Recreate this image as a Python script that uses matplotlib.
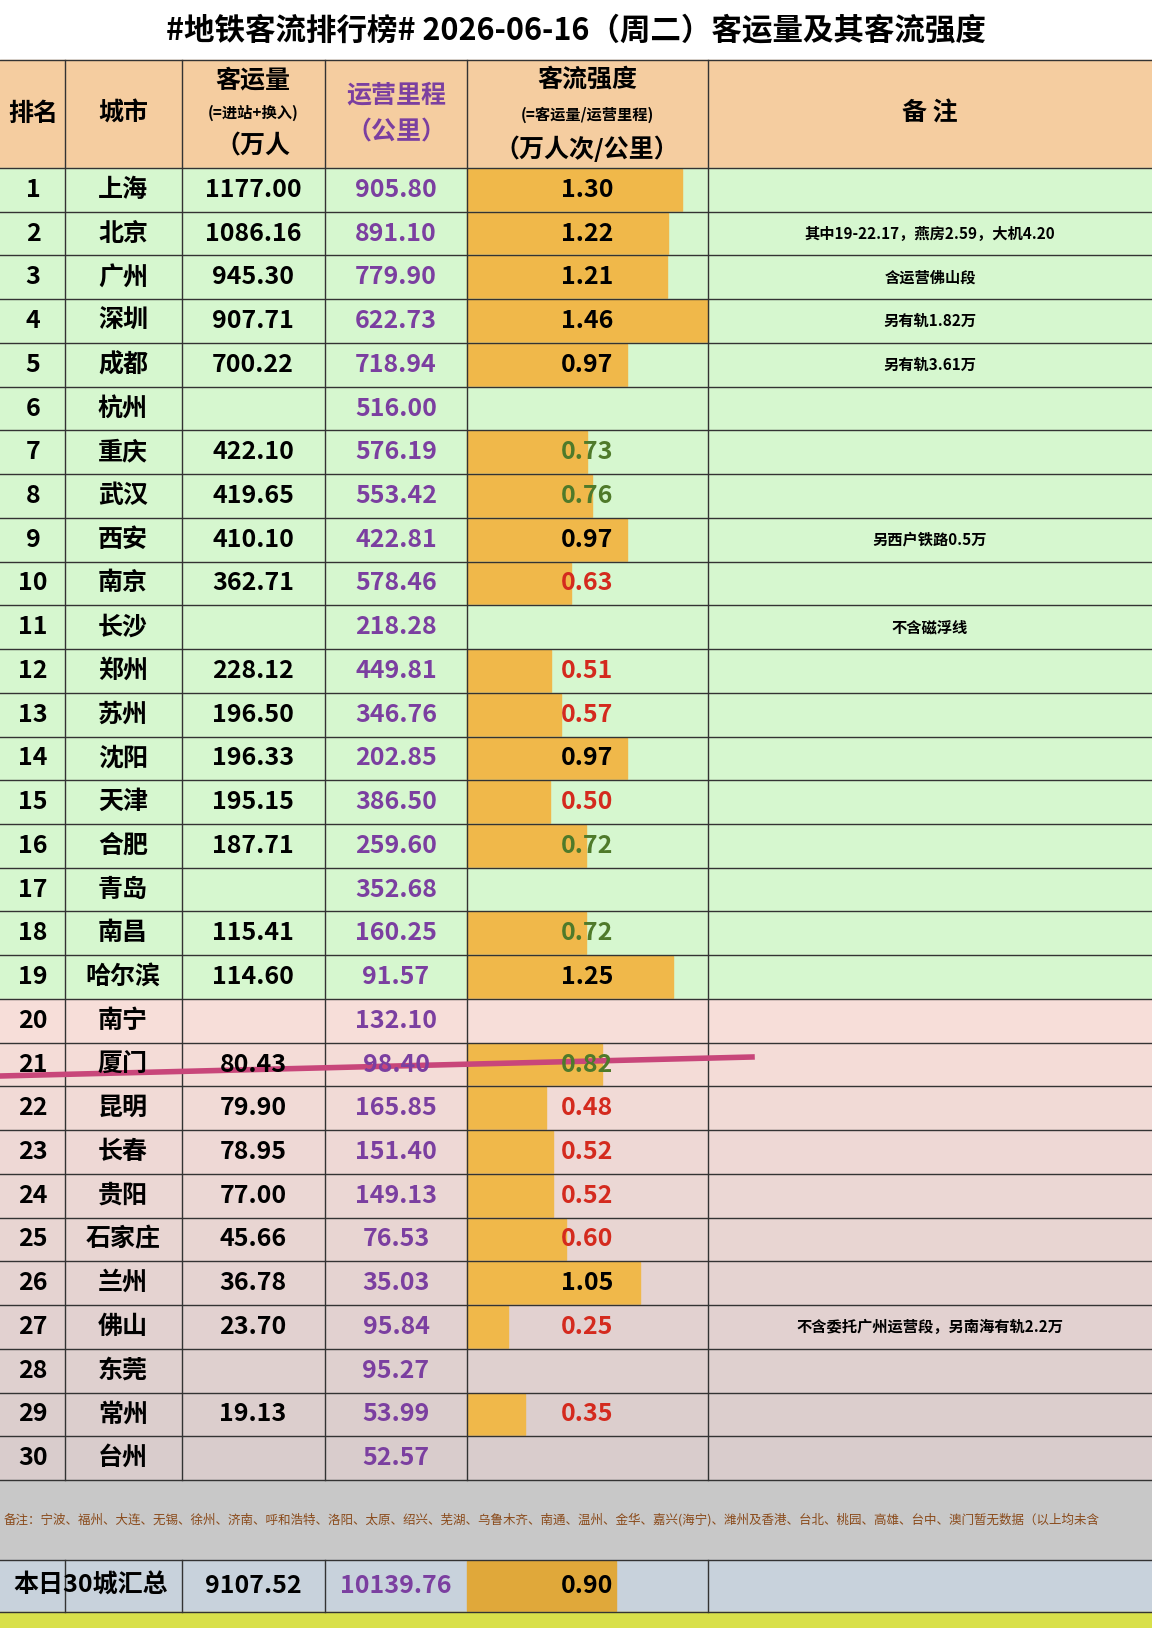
import matplotlib.pyplot as plt
from matplotlib.patches import Rectangle

plt.rcParams['font.family'] = ['Noto Sans CJK SC', 'DejaVu Sans']

ranks = list(range(1, 31))
cities = ["上海", "北京", "广州", "深圳", "成都", "杭州", "重庆", "武汉", "西安", "南京",
          "长沙", "郑州", "苏州", "沈阳", "天津", "合肥", "青岛", "南昌", "哈尔滨", "南宁",
          "厦门", "昆明", "长春", "贵阳", "石家庄", "兰州", "佛山", "东莞", "常州", "台州"]
volume = [1177.00, 1086.16, 945.30, 907.71, 700.22, None, 422.10, 419.65, 410.10, 362.71,
          None, 228.12, 196.50, 196.33, 195.15, 187.71, None, 115.41, 114.60, None,
          80.43, 79.90, 78.95, 77.00, 45.66, 36.78, 23.70, None, 19.13, None]
mileage = [905.80, 891.10, 779.90, 622.73, 718.94, 516.00, 576.19, 553.42, 422.81, 578.46,
           218.28, 449.81, 346.76, 202.85, 386.50, 259.60, 352.68, 160.25, 91.57, 132.10,
           98.40, 165.85, 151.40, 149.13, 76.53, 35.03, 95.84, 95.27, 53.99, 52.57]
intensity = [1.30, 1.22, 1.21, 1.46, 0.97, None, 0.73, 0.76, 0.97, 0.63,
             None, 0.51, 0.57, 0.97, 0.50, 0.72, None, 0.72, 1.25, None,
             0.82, 0.48, 0.52, 0.52, 0.60, 1.05, 0.25, None, 0.35, None]
notes = {2: "其中19-22.17，燕房2.59，大机4.20", 3: "含运营佛山段", 4: "另有轨1.82万",
         5: "另有轨3.61万", 9: "另西户铁路0.5万", 11: "不含磁浮线",
         27: "不含委托广州运营段，另南海有轨2.2万"}
total_volume, total_mileage, total_intensity = 9107.52, 10139.76, 0.90
footnote = "备注：宁波、福州、大连、无锡、徐州、济南、呼和浩特、洛阳、太原、绍兴、芜湖、乌鲁木齐、南通、温州、金华、嘉兴(海宁)、潍州及香港、台北、桃园、高雄、台中、澳门暂无数据（以上均未含"

W, H = 1152, 1628
fig = plt.figure(figsize=(W / 100, H / 100), dpi=100)
ax = fig.add_axes([0, 0, 1, 1])
ax.set_xlim(0, W)
ax.set_ylim(H, 0)
ax.axis('off')

cols = [0, 65, 182, 325, 467, 708, 1152]
top, hdr_bot = 60, 168
rh = (1480 - hdr_bot) / 30
purple = '#7b3fa0'
bar_c = '#f0b84a'
scale = 165

ax.text(W / 2, 30, "#地铁客流排行榜# 2026-06-16（周二）客运量及其客流强度",
        ha='center', va='center', fontsize=22, fontweight='bold')

# header
ax.add_patch(Rectangle((0, top), W, hdr_bot - top, color='#f5cda0'))
hm = (top + hdr_bot) / 2
ax.text(33, hm, "排名", ha='center', va='center', fontsize=18, fontweight='bold')
ax.text(123, hm, "城市", ha='center', va='center', fontsize=18, fontweight='bold')
ax.text(253, 80, "客运量", ha='center', va='center', fontsize=18, fontweight='bold')
ax.text(253, 113, "(=进站+换入)", ha='center', va='center', fontsize=11, fontweight='bold')
ax.text(253, 146, "（万人", ha='center', va='center', fontsize=18, fontweight='bold')
ax.text(396, 95, "运营里程", ha='center', va='center', fontsize=18, fontweight='bold', color=purple)
ax.text(396, 133, "（公里）", ha='center', va='center', fontsize=18, fontweight='bold', color=purple)
ax.text(587, 80, "客流强度", ha='center', va='center', fontsize=18, fontweight='bold')
ax.text(587, 115, "(=客运量/运营里程)", ha='center', va='center', fontsize=11, fontweight='bold')
ax.text(587, 149, "（万人次/公里）", ha='center', va='center', fontsize=18, fontweight='bold')
ax.text(930, hm, "备 注", ha='center', va='center', fontsize=18, fontweight='bold')

for i in range(30):
    y0 = hdr_bot + i * rh
    ym = y0 + rh / 2
    if i < 19:
        bg = '#d6f7cf'
    else:
        t = (i - 19) / 10
        bg = (0.97 - 0.12 * t, 0.87 - 0.07 * t, 0.85 - 0.05 * t)
    ax.add_patch(Rectangle((0, y0), W, rh, color=bg))
    ax.text(33, ym, str(ranks[i]), ha='center', va='center', fontsize=18, fontweight='bold')
    ax.text(123, ym, cities[i], ha='center', va='center', fontsize=18, fontweight='bold')
    if volume[i] is not None:
        ax.text(253, ym, f"{volume[i]:.2f}", ha='center', va='center', fontsize=18, fontweight='bold')
    ax.text(396, ym, f"{mileage[i]:.2f}", ha='center', va='center', fontsize=18,
            fontweight='bold', color=purple)
    v = intensity[i]
    if v is not None:
        ax.add_patch(Rectangle((cols[4], y0 + 1), v * scale, rh - 2, color=bar_c))
        c = 'black' if v >= 0.9 else ('#4f7a2a' if v >= 0.7 else '#d42a1e')
        ax.text(587, ym, f"{v:.2f}", ha='center', va='center', fontsize=18, fontweight='bold', color=c)
    if ranks[i] in notes:
        ax.text(930, ym, notes[ranks[i]], ha='center', va='center', fontsize=11, fontweight='bold')

# footnote row and total
ax.add_patch(Rectangle((0, 1480), W, 80, color='#c8c8c8'))
ax.text(4, 1520, footnote, ha='left', va='center', fontsize=9, color='#8a4a1a', clip_on=True)
ax.add_patch(Rectangle((0, 1560), W, 52, color='#c8d2dc'))
tm = 1586
ax.text(91, tm, "本日30城汇总", ha='center', va='center', fontsize=18, fontweight='bold')
ax.text(253, tm, f"{total_volume:.2f}", ha='center', va='center', fontsize=18, fontweight='bold')
ax.text(396, tm, f"{total_mileage:.2f}", ha='center', va='center', fontsize=18, fontweight='bold', color=purple)
ax.add_patch(Rectangle((cols[4], 1561), total_intensity * scale, 50, color='#e0a83a'))
ax.text(587, tm, f"{total_intensity:.2f}", ha='center', va='center', fontsize=18, fontweight='bold')
ax.add_patch(Rectangle((0, 1612), W, 16, color='#d8e04a'))

# grid lines
for x in cols[1:-1]:
    ax.plot([x, x], [top, 1480], color='#333333', lw=1)
for x in cols[1:4]:
    ax.plot([x, x], [1560, 1612], color='#333333', lw=1)
ax.plot([cols[5], cols[5]], [1560, 1612], color='#333333', lw=1)
for k in range(31):
    y = hdr_bot + k * rh
    ax.plot([0, W], [y, y], color='#333333', lw=1)
for y in [top, 1560, 1612]:
    ax.plot([0, W], [y, y], color='#333333', lw=1)

# hand-drawn divider line
ax.plot([0, 752], [1076, 1057], color='#c8467a', lw=4)

fig.savefig("out.png", dpi=100)
